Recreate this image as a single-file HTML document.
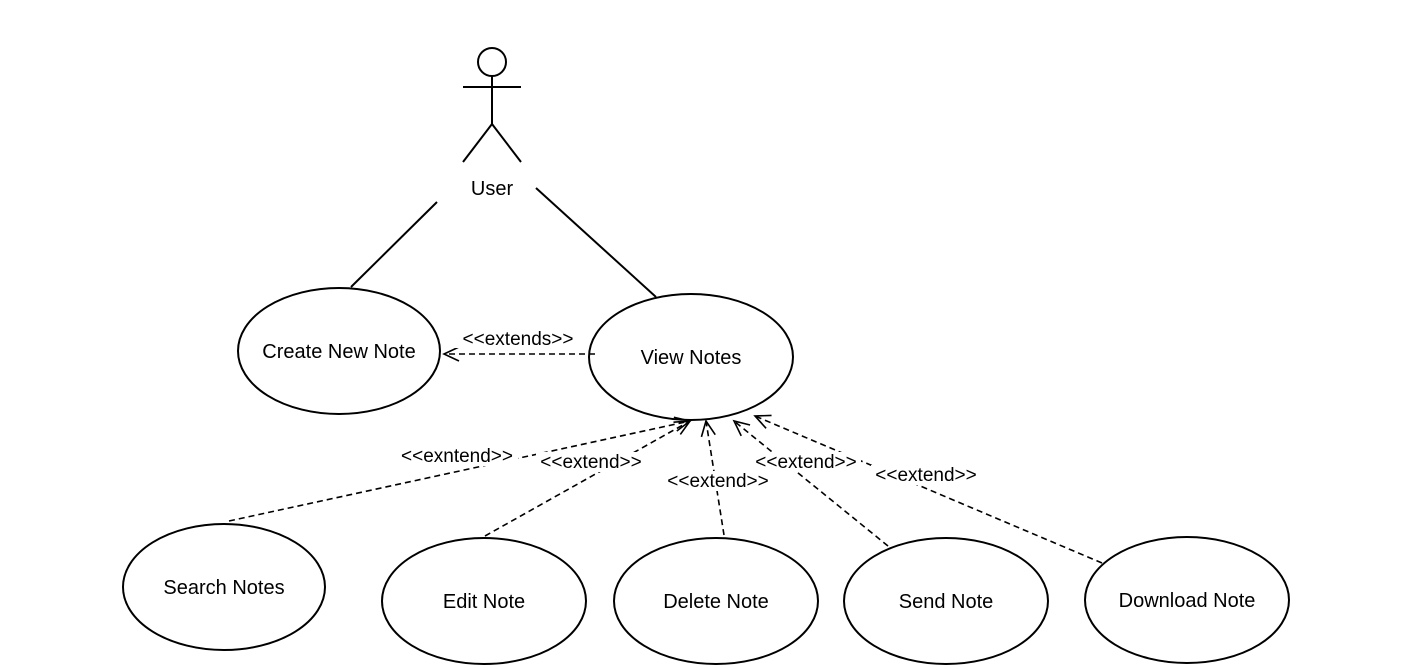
<!DOCTYPE html>
<html><head><style>html,body{margin:0;background:#fff}svg{display:block}</style></head><body>
<svg width="1420" height="670" viewBox="0 0 1420 670" xmlns="http://www.w3.org/2000/svg" font-family="Liberation Sans, Arial, sans-serif" font-size="20">
<defs><marker id="a" markerWidth="18" markerHeight="16" refX="16" refY="8" orient="auto" markerUnits="userSpaceOnUse"><path d="M1,1 L16,8 L1,15" fill="none" stroke="#000" stroke-width="1.6"/></marker></defs>
<g fill="none" stroke="#000" stroke-width="2">
<circle cx="492" cy="62" r="14"/>
<line x1="492" y1="76" x2="492" y2="124"/>
<line x1="463" y1="87" x2="521" y2="87"/>
<line x1="492" y1="124" x2="463" y2="162"/>
<line x1="492" y1="124" x2="521" y2="162"/>
<line x1="437" y1="202" x2="351" y2="287"/>
<line x1="536" y1="188" x2="656" y2="297"/>
<ellipse cx="339" cy="351" rx="101" ry="63"/>
<ellipse cx="691" cy="357" rx="102" ry="63"/>
<ellipse cx="224" cy="587" rx="101" ry="63"/>
<ellipse cx="484" cy="601" rx="102" ry="63"/>
<ellipse cx="716" cy="601" rx="102" ry="63"/>
<ellipse cx="946" cy="601" rx="102" ry="63"/>
<ellipse cx="1187" cy="600" rx="102" ry="63"/>
</g>
<g fill="none" stroke="#000" stroke-width="1.6" stroke-dasharray="6,4" marker-end="url(#a)">
<line x1="595" y1="354" x2="444" y2="354"/>
<line x1="229" y1="521" x2="690" y2="421"/>
<line x1="485" y1="536" x2="690" y2="421"/>
<line x1="724" y1="535" x2="706" y2="421"/>
<line x1="888" y1="546" x2="734" y2="421"/>
<line x1="1102" y1="563" x2="755" y2="416"/>
</g>
<g fill="#fff">
<rect x="396" y="446" width="122" height="20"/>
<rect x="536" y="452" width="110" height="20"/>
<rect x="663" y="471" width="110" height="20"/>
<rect x="751" y="452" width="110" height="20"/>
<rect x="871" y="465" width="110" height="20"/>
</g>
<g text-anchor="middle" fill="#000">
<text x="492" y="195">User</text>
<text x="339" y="358">Create New Note</text>
<text x="691" y="364">View Notes</text>
<text x="224" y="594">Search Notes</text>
<text x="484" y="608">Edit Note</text>
<text x="716" y="608">Delete Note</text>
<text x="946" y="608">Send Note</text>
<text x="1187" y="607">Download Note</text>
<g font-size="19">
<rect x="452" y="326" width="132" height="22" fill="#fff"/>
<text x="518" y="345">&lt;&lt;extends&gt;&gt;</text>
<text x="457" y="462">&lt;&lt;exntend&gt;&gt;</text>
<text x="591" y="468">&lt;&lt;extend&gt;&gt;</text>
<text x="718" y="487">&lt;&lt;extend&gt;&gt;</text>
<text x="806" y="468">&lt;&lt;extend&gt;&gt;</text>
<text x="926" y="481">&lt;&lt;extend&gt;&gt;</text>
</g>
</g>
</svg>
</body></html>
